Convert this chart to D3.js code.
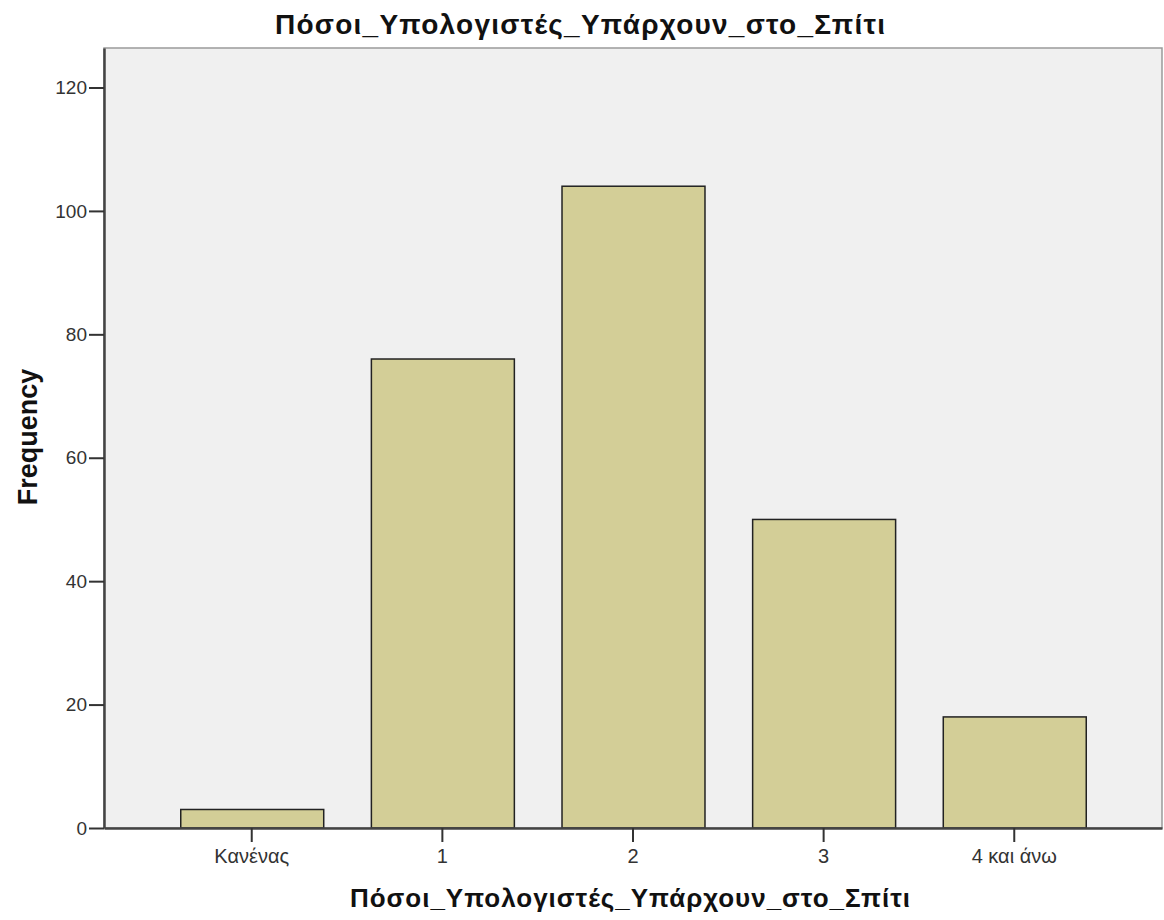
<!DOCTYPE html>
<meta charset="utf-8">
<script src="https://cdn.jsdelivr.net/npm/d3@7"></script>
<style>
    body { margin: 0; background: #fff; }
    text { font-family: "Liberation Sans", Arial, sans-serif; }
</style>
<body>
<div id="chart"></div>
<script>

    var categories = ["Κανένας", "1", "2", "3", "4 και άνω"]
    var frequency = [3, 76, 104, 50, 18]
    var yTicks = [0, 20, 40, 60, 80, 100, 120]
    var title = "Πόσοι_Υπολογιστές_Υπάρχουν_στο_Σπίτι"

    var W = 1164, H = 920
    var pLeft = 104, pRight = 1162, pTop = 48, pBottom = 828
    var fontFam = "Liberation Sans, Arial, sans-serif"

    var svg = d3.select("#chart").append("svg").attr("width", W).attr("height", H)

    var x_scale = d3.scaleBand().domain(categories).range([pLeft, pRight]).paddingInner(0.25).paddingOuter(0.4)
    var y_scale = d3.scaleLinear().domain([0, 126.4]).range([pBottom, pTop])

    // plot background
    svg.append("rect").attr("x", pLeft).attr("y", pTop).attr("width", pRight - pLeft).attr("height", pBottom - pTop)
        .style("fill", "#f0f0f0").style("stroke", "#9a9a9a").style("stroke-width", 1.5)

    // bars
    svg.selectAll(".bar").data(frequency).enter().append("rect").attr("class", "bar")
        .attr("x", (d, i) => x_scale(categories[i]) + 0.5)
        .attr("width", x_scale.bandwidth())
        .attr("y", (d) => y_scale(d))
        .attr("height", (d) => pBottom - y_scale(d))
        .style("fill", "#d3ce97").style("stroke", "#222").style("stroke-width", 1.5)

    // axes
    var x_axis = d3.axisBottom(x_scale).tickSize(14).tickSizeOuter(0).tickPadding(7)
    var gx = svg.append("g").attr("transform", "translate(0," + pBottom + ")").call(x_axis)
    gx.select(".domain").style("stroke", "#444").style("stroke-width", 2.5)
    gx.selectAll(".tick line").style("stroke", "#333").style("stroke-width", 2)
    gx.selectAll(".tick text").style("font-size", "20px").style("fill", "#333").style("font-family", fontFam)

    var y_axis = d3.axisLeft(y_scale).tickValues(yTicks).tickSize(15).tickSizeOuter(0).tickPadding(2)
    var gy = svg.append("g").attr("transform", "translate(" + pLeft + ",0)").call(y_axis)
    gy.select(".domain").style("stroke", "#444").style("stroke-width", 2.5)
    gy.selectAll(".tick line").style("stroke", "#333").style("stroke-width", 2)
    gy.selectAll(".tick text").style("font-size", "19px").style("fill", "#333").style("font-family", fontFam)

    // titles
    svg.append("text").attr("x", 580).attr("y", 34).text(title)
        .attr("textLength", 610).attr("lengthAdjust", "spacing")
        .style("text-anchor", "middle").style("font-size", "28px").style("font-weight", "bold").style("fill", "#111")
    svg.append("text").attr("x", 630).attr("y", 907).text(title)
        .attr("textLength", 560).attr("lengthAdjust", "spacing")
        .style("text-anchor", "middle").style("font-size", "26px").style("font-weight", "bold").style("fill", "#111")
    svg.append("text").attr("transform", "rotate(-90)").attr("x", -437).attr("y", 37).text("Frequency")
        .style("text-anchor", "middle").style("font-size", "27px").style("font-weight", "bold").style("fill", "#111")

</script>
</body>
</html>
